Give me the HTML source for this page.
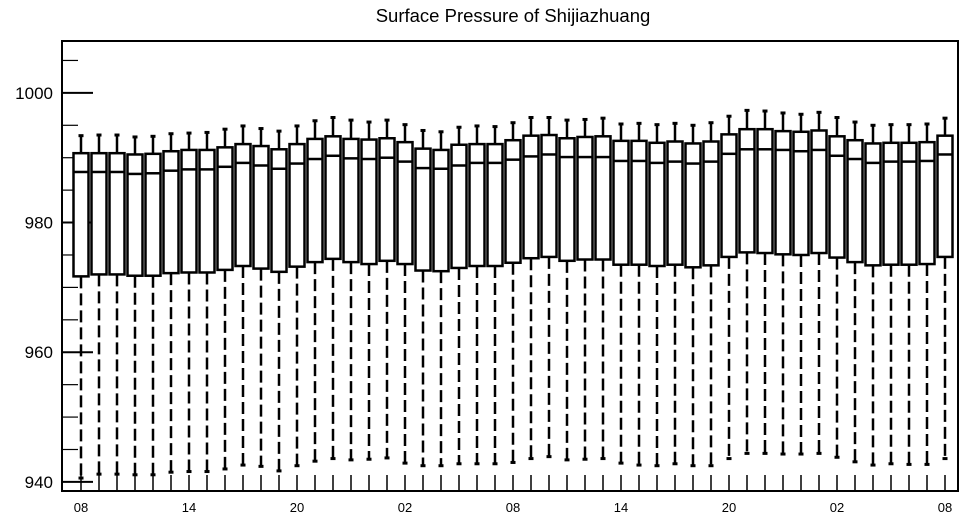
<!DOCTYPE html>
<html><head><meta charset="utf-8">
<style>
html,body{margin:0;padding:0;background:#fff;}
svg{display:block;font-family:"Liberation Sans",sans-serif;}
</style></head>
<body>
<svg id="chart" width="968" height="520" viewBox="0 0 968 520" xmlns="http://www.w3.org/2000/svg">
<text x="513" y="22" text-anchor="middle" font-size="18.5" fill="#000">Surface Pressure of Shijiazhuang</text>
<g id="axes"></g>
<g id="boxes"></g>
</svg>
<script>
const xTickLabels = ["08","14","20","02","08","14","20","02","08"];
const yTickValues = [940, 960, 980, 1000];
const whiskerHigh = [993.4,993.5,993.5,993.2,993.3,993.7,993.8,993.9,994.4,994.9,994.5,994.1,994.9,995.7,996.2,995.8,
995.5,995.8,995.1,994.2,994.0,994.7,994.9,994.8,995.4,996.2,996.2,995.8,995.9,996.1,995.2,995.3,
995.1,995.3,995.0,995.4,996.4,997.3,997.2,996.9,996.7,997.0,996.2,995.5,995.0,995.1,995.1,995.2,996.1];
const q3 = [990.7,990.7,990.7,990.5,990.6,991.0,991.2,991.2,991.6,992.1,991.8,991.3,992.1,992.9,993.3,992.9,
992.8,993.0,992.4,991.4,991.2,992.0,992.1,992.1,992.7,993.4,993.5,993.0,993.2,993.3,992.6,992.6,
992.3,992.5,992.2,992.5,993.6,994.4,994.4,994.1,994.0,994.2,993.3,992.7,992.2,992.3,992.3,992.4,993.4];
const median = [987.8,987.8,987.8,987.5,987.6,988.0,988.2,988.2,988.6,989.2,988.8,988.3,989.1,989.8,990.3,989.9,
989.8,990.0,989.4,988.4,988.3,988.8,989.2,989.2,989.7,990.2,990.5,990.1,990.1,990.1,989.5,989.5,
989.2,989.4,989.1,989.4,990.6,991.3,991.3,991.2,991.0,991.2,990.3,989.8,989.2,989.4,989.4,989.5,990.5];
const q1 = [971.7,972.0,972.0,971.8,971.8,972.2,972.3,972.3,972.7,973.3,972.9,972.4,973.2,973.9,974.4,973.9,
973.6,974.1,973.6,972.6,972.5,973.0,973.3,973.3,973.8,974.5,974.7,974.1,974.3,974.3,973.5,973.5,
973.3,973.5,973.1,973.4,974.7,975.4,975.3,975.1,975.0,975.3,974.6,973.9,973.4,973.5,973.5,973.6,974.7];
const whiskerLow = [940.6,941.2,941.2,941.1,941.1,941.5,941.6,941.6,942.0,942.6,942.4,941.7,942.5,943.2,943.6,943.4,
943.5,943.7,942.9,942.5,942.5,942.8,942.8,942.8,943.0,943.6,943.9,943.4,943.5,943.6,942.9,942.6,
942.5,942.8,942.5,942.5,943.6,944.4,944.4,944.3,944.3,944.4,943.8,943.1,942.6,942.8,942.7,942.7,943.6];

const NS = "http://www.w3.org/2000/svg";
const L = 62, R = 958, T = 41, B = 491;
const yMin = 938.6, yMax = 1008;
function yScale(v){ return B - (v - yMin) / (yMax - yMin) * (B - T); }
const n = median.length;
function xScale(i){ return 81 + i * (945 - 81) / (n - 1); }

function mk(parent, tag, attrs){
  const e = document.createElementNS(NS, tag);
  for (const k in attrs) e.setAttribute(k, attrs[k]);
  parent.appendChild(e);
  return e;
}
const axes = document.getElementById("axes");
const boxes = document.getElementById("boxes");

// frame
const frame = mk(axes, "rect", {x:L, y:T, width:R-L, height:B-T, fill:"none", stroke:"#000", "stroke-width":2});



// y ticks (minor every 5, major every 20)
for (let v = 940; v <= 1005; v += 5) {
  const major = (v % 20 === 0);
  const y = yScale(v);
  const t = mk(axes, "line", {x1:L, x2:L + (major ? 31 : 16), y1:y, y2:y, stroke:"#000", "stroke-width":major ? 2 : 1.2});
  
  
}
yTickValues.forEach(v => {
  const t = mk(axes, "text", {x:53, y:yScale(v) + 6, "text-anchor":"end", "font-size":"17", fill:"#000"});
  t.textContent = v;
  
  
});

// x ticks
for (let i = 0; i < n; i++) {
  const x = xScale(i);
  const t = mk(axes, "line", {x1:x, x2:x, y1:B, y2:B - 16, stroke:"#000", "stroke-width":1.5});
  
  
}
xTickLabels.forEach((lab, k) => {
  const t = mk(axes, "text", {x:xScale(k * 6), y:512, "text-anchor":"middle", "font-size":"13", fill:"#000"});
  t.textContent = lab;
  
  
});

// boxes
const hw = 7.5;
for (let i = 0; i < n; i++) {
  const x = xScale(i);
  const g = mk(boxes, "g", {});
  
  
  // upper whisker
  mk(g, "line", {x1:x, x2:x, y1:yScale(q3[i]), y2:yScale(whiskerHigh[i]), stroke:"#000", "stroke-width":2.5});
  mk(g, "line", {x1:x-2.5, x2:x+2.5, y1:yScale(whiskerHigh[i]), y2:yScale(whiskerHigh[i]), stroke:"#000", "stroke-width":3});
  // lower whisker dashed
  mk(g, "line", {x1:x, x2:x, y1:yScale(q1[i]), y2:yScale(whiskerLow[i]), stroke:"#000", "stroke-width":2.5, "stroke-dasharray":"12,5"});
  mk(g, "line", {x1:x-2.5, x2:x+2.5, y1:yScale(whiskerLow[i]), y2:yScale(whiskerLow[i]), stroke:"#000", "stroke-width":3});
  // box
  mk(g, "rect", {x:x-hw, y:yScale(q3[i]), width:hw*2, height:yScale(q1[i]) - yScale(q3[i]), fill:"#fff", stroke:"#000", "stroke-width":2.5});
  mk(g, "line", {x1:x-hw, x2:x+hw, y1:yScale(median[i]), y2:yScale(median[i]), stroke:"#000", "stroke-width":2.5});
}
</script>
</body></html>
